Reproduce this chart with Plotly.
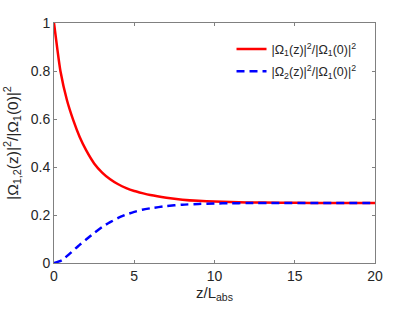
import plotly.graph_objects as go

# Values
z_red = [0, 0.2, 0.4, 0.8, 1.2, 1.6, 2.0, 2.5, 3.0, 3.5, 4.0, 4.5, 5.0, 5.5, 6.0, 7.0, 8.0, 9.0, 10, 11, 12, 14, 16, 20]
red_vals = [1.0, 0.895, 0.80, 0.68, 0.595, 0.525, 0.47, 0.415, 0.377, 0.349, 0.328, 0.312, 0.300, 0.291, 0.283, 0.272, 0.264, 0.259, 0.256, 0.254, 0.2525, 0.251, 0.2503, 0.25]

z_blue = [0, 0.5, 1.0, 1.5, 2.0, 2.5, 3.0, 3.5, 4.0, 4.5, 5.0, 5.5, 6.0, 7.0, 8.0, 9.0, 10, 11, 12, 14, 16, 20]
blue_vals = [0, 0.012, 0.04, 0.07, 0.098, 0.125, 0.15, 0.17, 0.188, 0.202, 0.213, 0.222, 0.228, 0.237, 0.243, 0.246, 0.248, 0.249, 0.2497, 0.25, 0.25, 0.25]

x_ticks = [0, 5, 10, 15, 20]
y_ticks = [0, 0.2, 0.4, 0.6, 0.8, 1]
y_tick_labels = ["0", "0.2", "0.4", "0.6", "0.8", "1"]

name_red = "|Ω<sub>1</sub>(z)|<sup>2</sup>/|Ω<sub>1</sub>(0)|<sup>2</sup>"
name_blue = "|Ω<sub>2</sub>(z)|<sup>2</sup>/|Ω<sub>1</sub>(0)|<sup>2</sup>"
x_title = "z/L<sub>abs</sub>"
y_title = "|Ω<sub>1,2</sub>(z)|<sup>2</sup>/|Ω<sub>1</sub>(0)|<sup>2</sup>"

font_family = "Liberation Sans, Arial, sans-serif"
text_color = "#262626"
axis_color = "#808080"

fig = go.Figure()
fig.add_trace(go.Scatter(x=z_red, y=red_vals, mode="lines", name=name_red, legendgroup="a",
                         line=dict(color="#ff0000", width=2.5, shape="spline", smoothing=0.6)))
fig.add_trace(go.Scatter(x=z_blue, y=blue_vals, mode="lines", name=name_blue, legendgroup="b",
                         line=dict(color="#0000ff", width=2.5, dash="8px,5px", shape="spline", smoothing=0.6)))

axis_common = dict(showgrid=False, zeroline=False, showline=True, linecolor=axis_color, linewidth=1,
                   mirror="ticks", ticks="inside", ticklen=3, tickcolor=axis_color, automargin=False,
                   tickfont=dict(family=font_family, size=14, color=text_color))

fig.update_layout(
    width=415, height=312,
    margin=dict(l=54, r=40, t=23, b=49),
    paper_bgcolor="white", plot_bgcolor="white",
    font=dict(family=font_family, size=14, color=text_color),
    xaxis=dict(range=[0, 20], tickvals=x_ticks, ticktext=[str(v) for v in x_ticks],
               title=dict(text=x_title, font=dict(size=15, color=text_color), standoff=2),
               **axis_common),
    yaxis=dict(range=[0, 1], tickvals=y_ticks, ticktext=y_tick_labels,
               title=dict(text=y_title, font=dict(size=15.5, color=text_color), standoff=8),
               **axis_common),
    legend=dict(x=0.553, y=0.953, xanchor="left", yanchor="top", bgcolor="rgba(255,255,255,0)",
                borderwidth=0, font=dict(size=12.5, color=text_color), tracegroupgap=3,
                itemwidth=30),
    showlegend=True,
)

fig.write_html("out.html", config={"displayModeBar": False},
               post_script="document.body.style.margin='0';document.body.style.overflow='hidden';")
